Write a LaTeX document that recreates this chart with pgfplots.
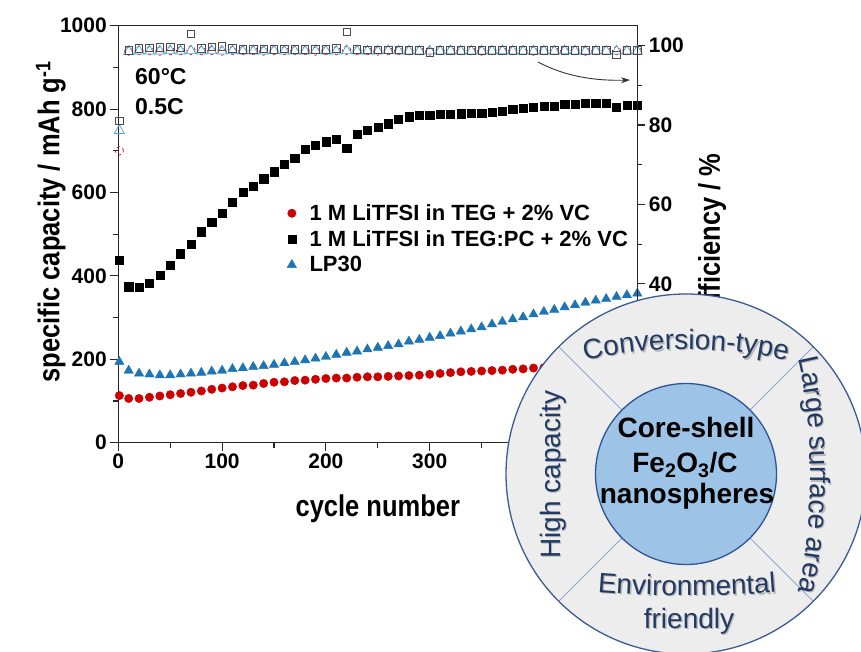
\documentclass[border=0pt]{standalone}
\usepackage{fontspec}
\setmainfont{Liberation Sans}
\newfontfamily\labfam{Liberation Sans}[FakeStretch=0.85]
\usepackage{pgfplots}
\pgfplotsset{compat=1.18}
\usepackage{pgfplotstable}
\usetikzlibrary{arrows.meta,decorations.text}
\definecolor{cred}{HTML}{CC0000}
\definecolor{cblue}{HTML}{1F74B4}
\definecolor{copenblue}{HTML}{4A9FD8}
\definecolor{ringfill}{HTML}{EDEDED}
\definecolor{ringline}{HTML}{3B5B92}
\definecolor{corefill}{HTML}{9DC3E6}
\definecolor{coreline}{HTML}{2F5597}
\definecolor{divline}{HTML}{8FA6CF}
\definecolor{ringtext}{HTML}{233A64}
\newcommand{\tickfont}{\bfseries\fontsize{21}{25}\selectfont}
\newcommand{\labfont}{\labfam\bfseries\fontsize{30}{36}\selectfont}
\newcommand{\legfont}{\bfseries\fontsize{22}{26}\selectfont}
\newcommand{\ringfont}{\fontsize{28}{32}\selectfont}
\newcommand{\corefont}{\bfseries\fontsize{28}{32}\selectfont}

\pgfplotstableread{
cyc teg tegpc lp30
1 113 438 194
10 106 374 173
20 106 372 166
30 109 382 164
40 112 401 162
50 115 425 162
60 118 453 164
70 121 476 166
80 124 506 168
90 128 528 171
100 131 551 173
110 134 576 177
120 137 600 179
130 138 616 182
140 142 633 184
150 145 650 187
160 146 668 191
170 149 682 194
180 150 703 198
190 152 714 202
200 154 722 206
210 155 728 211
220 155 706 216
230 157 740 219
240 158 750 224
250 158 756 228
260 159 765 232
270 160 775 236
280 161 782 243
290 162 786 247
300 164 786 252
310 166 787 256
320 168 788 262
330 170 789 267
340 171 790 272
350 172 790 277
360 173 792 284
370 174 795 290
380 176 800 296
390 177 803 301
400 179 804 308
410 180 807 314
420 181 807 319
430 182 811 325
440 183 811 330
450 184 814 336
460 185 815 341
470 186 815 345
480 187 804 350
490 188 810 354
500 189 810 358
}\capdata

\pgfplotstableread{
cyc teg tegpc lp30
1 73.5 81.0 78.6
10 98.6 98.8 98.5
20 98.7 99.3 98.6
30 98.7 99.4 98.6
40 98.6 99.5 98.6
50 98.7 99.6 98.7
60 98.7 99.4 98.6
70 98.8 103.0 98.7
80 98.7 99.3 98.6
90 98.7 99.6 98.7
100 98.6 99.8 98.6
110 98.7 99.3 98.7
120 98.7 99.0 98.6
130 98.7 99.0 98.6
140 98.6 99.1 98.6
150 98.7 99.0 98.7
160 98.7 99.1 98.6
170 98.7 99.0 98.6
180 98.7 99.0 98.6
190 98.6 99.0 98.7
200 98.7 99.0 98.6
210 98.7 99.3 98.6
220 98.8 103.5 98.7
230 98.7 99.0 98.6
240 98.7 98.9 98.6
250 98.6 98.9 98.6
260 98.7 98.9 98.7
270 98.7 98.9 98.6
280 98.7 98.8 98.6
290 98.7 98.8 98.6
300 98.6 98.3 98.6
310 98.7 98.8 98.6
320 98.7 98.8 98.7
330 98.7 98.8 98.6
340 98.7 98.8 98.6
350 98.6 98.8 98.6
360 98.7 98.8 98.6
370 98.7 98.8 98.7
380 98.7 98.8 98.6
390 98.7 98.8 98.6
400 98.6 98.8 98.6
410 98.7 98.8 98.6
420 98.7 98.8 98.6
430 98.7 98.8 98.7
440 98.7 98.8 98.6
450 98.6 98.8 98.6
460 98.7 98.8 98.6
470 98.7 98.8 98.6
480 98.7 97.7 98.6
490 98.7 98.8 98.6
500 98.7 98.8 98.6
}\effdata

\newcommand{\arctext}[2]{%
  \path[xshift=1.3pt,yshift=-1.3pt,decorate,decoration={text along path,text={|\ringfont|#1},text align=center,text color=black!28}] #2;
  \path[decorate,decoration={text along path,text={|\ringfont|#1},text align=center,text color=ringtext}] #2;}

\begin{document}
\begin{tikzpicture}
\clip (0pt,0pt) rectangle (861pt,651pt);
\begin{axis}[
  at={(118.3pt,208.3pt)}, anchor=south west, scale only axis,
  width=519pt, height=417pt,
  xmin=0, xmax=500, ymin=0, ymax=1000,
  xtick={0,100,...,500}, xticklabels={0,100,200,300,,},
  ytick={0,200,...,1000},
  minor x tick num=1, minor y tick num=1,
  xtick pos=bottom, ytick pos=left, tick align=outside,
  major tick length=8pt, minor tick length=5pt,
  axis line style={-, line width=1.1pt, draw=black!85},
  tick style={line width=1.1pt, color=black!85},
  ticklabel style={font=\tickfont},
  /pgf/number format/assume math mode=true,
  /pgf/number format/1000 sep={},
  xlabel={cycle number},
  ylabel={specific capacity / mAh g\textsuperscript{-1}},
  label style={font=\labfont},
  xlabel style={at={(axis description cs:0.5,-0.178)}, anchor=base},
  ylabel style={at={(axis description cs:-0.13,0.53)}, anchor=center},
  legend cell align=left,
  legend image code/.code={\draw[mark repeat=2,mark phase=2,#1] plot coordinates {(0pt,0pt) (9pt,0pt) (18pt,0pt)};},
  legend style={draw=none, fill=none, font=\legfont,
    at={(axis description cs:0.325,0.574)}, anchor=north west,
    inner xsep=0pt, inner ysep=0pt, row sep=6.5pt,
    nodes={inner sep=1pt},
    /tikz/every odd column/.append style={column sep=12pt}},
]
\addplot[only marks, mark=*, mark size=4.2pt, cred, mark options={draw=cred, fill=cred}] table[x=cyc, y=teg] {\capdata};
\addlegendentry{1 M LiTFSI in TEG + 2\% VC}
\addplot[only marks, mark=square*, mark size=4.1pt, black, mark options={draw=black, fill=black}] table[x=cyc, y=tegpc] {\capdata};
\addlegendentry{1 M LiTFSI in TEG:PC + 2\% VC}
\addplot[only marks, mark=triangle*, mark size=5.4pt, cblue, mark options={draw=cblue, fill=cblue}] table[x=cyc, y=lp30] {\capdata};
\addlegendentry{LP30}
\end{axis}
\begin{axis}[
  at={(118.3pt,208.3pt)}, anchor=south west, scale only axis,
  width=519pt, height=417pt,
  xmin=0, xmax=500, ymin=0, ymax=105,
  axis x line=none, axis y line*=right,
  ytick={0,20,...,100}, yticklabels={,,40,60,80,100},
  minor y tick num=1, tick align=outside,
  major tick length=8pt, minor tick length=5pt,
  axis line style={-, line width=1.1pt, draw=black!85},
  tick style={line width=1.1pt, color=black!85},
  ticklabel style={font=\tickfont},
  /pgf/number format/assume math mode=true,
  ylabel={efficiency / \%},
  ylabel style={font=\labfont, at={(axis description cs:1.144,0.5)}, anchor=center, rotate=0},
]
\addplot[only marks, mark=o, mark size=4.2pt, cred, mark options={line width=0.6pt, dashed}] table[x=cyc, y=teg] {\effdata};
\addplot[only marks, mark=triangle, mark size=5.8pt, copenblue, mark options={line width=0.7pt}] table[x=cyc, y=lp30] {\effdata};
\addplot[only marks, mark=square, mark size=3.7pt, black!70, mark options={line width=0.7pt}] table[x=cyc, y=tegpc] {\effdata};
\end{axis}
\begin{scope}[x=1pt,y=1pt]
\draw[-{Stealth[length=9pt,width=6pt]}, line width=0.9pt, black!80] (538,589) .. controls (566,574) and (597,570) .. (630,571);
\node[anchor=base west, inner sep=0pt, font=\bfseries\fontsize{23}{27}\selectfont] at (135,566) {60°C};
\node[anchor=base west, inner sep=0pt, font=\bfseries\fontsize{23}{27}\selectfont] at (135,536) {0.5C};
% overlay graphic
\fill[ringfill] (686,177) circle (180pt);
\foreach \a in {45,135,225,315} {\draw[divline, line width=0.8pt] (686,177) ++(\a:90pt) -- ++(\a:90pt);}
\draw[ringline, line width=1.3pt] (686,177) circle (180pt);
\filldraw[fill=corefill, draw=coreline, line width=1.3pt] (686,177) circle (90.5pt);
\arctext{Conversion-type}{(575,288) .. controls (640,306) and (730,306) .. (797,288)}
\arctext{Large surface area}{(796,300) .. controls (815,230) and (815,120) .. (796,52)}
\arctext{Environmental}{(583,60) .. controls (640,54) and (730,54) .. (791,60)}
\node[anchor=base, inner sep=0pt, rotate=90, font=\ringfont, text=black!28] at (561.3,175.2) {High capacity};
\node[anchor=base, inner sep=0pt, rotate=90, font=\ringfont, text=ringtext] at (560,176.5) {High capacity};
\node[anchor=base, inner sep=0pt, font=\ringfont, text=black!28] at (690.3,21.7) {friendly};
\node[anchor=base, inner sep=0pt, font=\ringfont, text=ringtext] at (689,23) {friendly};
\node[anchor=base, inner sep=0pt, font=\corefont] at (686,214) {Core-shell};
\node[anchor=base, inner sep=0pt, font=\corefont] at (685,179) {Fe\textsubscript{2}O\textsubscript{3}/C};
\node[anchor=base, inner sep=0pt, font=\corefont] at (687,148) {nanospheres};
\end{scope}
\end{tikzpicture}
\end{document}
